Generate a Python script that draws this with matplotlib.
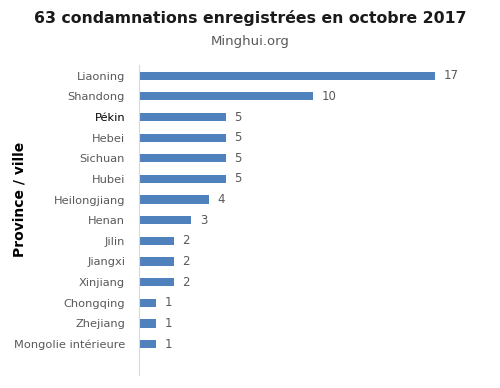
import matplotlib
matplotlib.use("Agg")
import matplotlib.pyplot as plt

provinces = ['Liaoning', 'Shandong', 'Pékin', 'Hebei', 'Sichuan', 'Hubei', 'Heilongjiang',
             'Henan', 'Jilin', 'Jiangxi', 'Xinjiang', 'Chongqing', 'Zhejiang', 'Mongolie intérieure']
counts = [17, 10, 5, 5, 5, 5, 4, 3, 2, 2, 2, 1, 1, 1]

bar_color = '#4f81bd'
gray = '#595959'

fig = plt.figure(figsize=(5, 3.88), dpi=100)
ax = fig.add_axes([139 / 500, 1 - 375 / 388, (478 - 139) / 500, (375 - 65) / 388])

pos = list(range(len(provinces)))
ax.barh(pos, counts, height=0.4, color=bar_color)
for p, v in zip(pos, counts):
    ax.text(v + 0.5, p, str(v), va='center', ha='left', fontsize=8.5, color=gray)

ax.set_ylim(14.5, -0.52)
ax.set_xlim(0, 19.5)
ax.set_yticks(pos)
ax.set_yticklabels(provinces, fontsize=8.2, color=gray)
ax.get_yticklabels()[2].set_color('black')
ax.tick_params(axis='y', length=0, pad=10)
ax.set_xticks([])
for s in ['top', 'right', 'bottom']:
    ax.spines[s].set_visible(False)
ax.spines['left'].set_color('#d9d9d9')

fig.text(20 / 500, 1 - 199 / 388, 'Province / ville', rotation=90, fontsize=10,
         fontweight='bold', ha='center', va='center')
fig.text(0.5, 1 - 18 / 388, '63 condamnations enregistrées en octobre 2017',
         fontsize=11.3, fontweight='bold', ha='center', va='center', color='#1a1a1a')
fig.text(0.5, 1 - 41 / 388, 'Minghui.org', fontsize=9.5, ha='center', va='center', color=gray)

fig.savefig('out.png', dpi=100)
